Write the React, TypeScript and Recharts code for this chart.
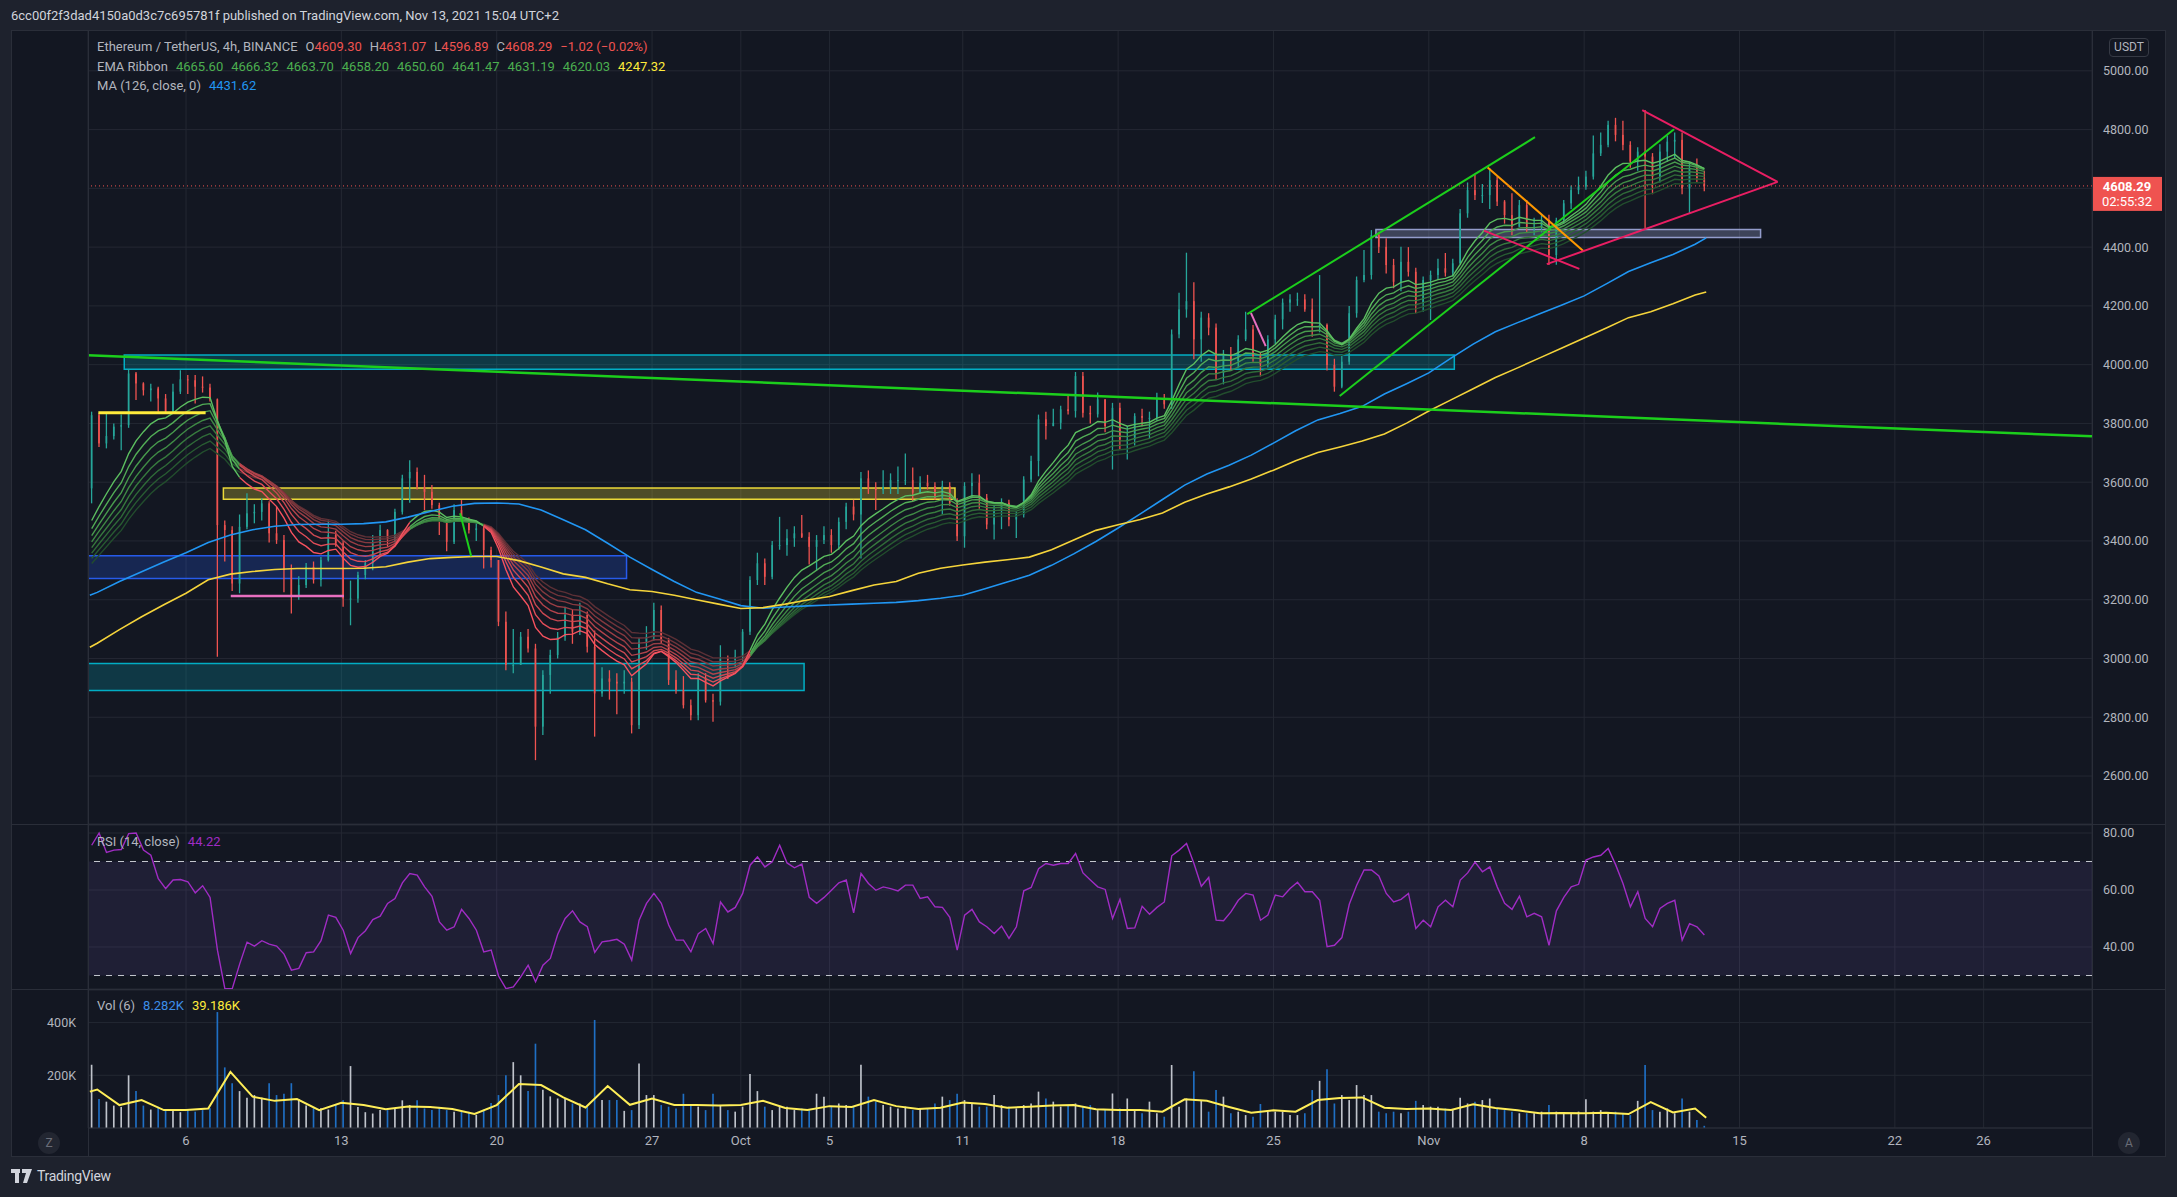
import React from "react";
import {
  ComposedChart,
  Bar,
  Line,
  XAxis,
  YAxis,
  CartesianGrid,
  ReferenceLine,
  ReferenceArea,
  Cell,
} from "recharts";

// slot 0 = Sep 1 16:00, slot 218 = Nov 13 08:00 (UTC+2)
const firstOpen = 3579;
const closes = [
  3828, 3732, 3757, 3789, 3794, 3970, 3936, 3913, 3919, 3885, 3840, 3908, 3950, 3947, 3925, 3922, 3882, 3454, 3437, 3255,
  3448, 3494, 3499, 3528, 3426, 3403, 3301, 3210, 3250, 3312, 3267, 3335, 3420, 3392, 3204, 3204, 3284, 3324, 3392, 3437,
  3409, 3499, 3613, 3635, 3584, 3567, 3522, 3471, 3397, 3505, 3471, 3437, 3443, 3369, 3335, 3125, 2978, 2978, 3074, 3034,
  2768, 2944, 3012, 3074, 3148, 3091, 3148, 3040, 2881, 2932, 2921, 2915, 2921, 2773, 3057, 3074, 3165, 3063, 2927, 2893,
  2841, 2807, 2932, 2858, 2853, 3000, 2995, 3006, 3091, 3267, 3324, 3278, 3386, 3386, 3409, 3426, 3414, 3380, 3403, 3420,
  3386, 3465, 3517, 3490, 3613, 3579, 3573, 3584, 3607, 3607, 3607, 3564, 3598, 3587, 3547, 3587, 3530, 3416, 3587, 3598,
  3547, 3456, 3507, 3530, 3473, 3490, 3609, 3672, 3814, 3791, 3802, 3848, 3842, 3961, 3836, 3831, 3882, 3791, 3853, 3745,
  3745, 3825, 3819, 3819, 3882, 3865, 4103, 4188, 4216, 4086, 4160, 4126, 3972, 4035, 4012, 4086, 4120, 4029, 4001, 4086,
  4154, 4211, 4222, 4222, 4188, 4129, 4135, 3999, 3925, 4010, 4175, 4288, 4305, 4441, 4401, 4339, 4282, 4350, 4316, 4209,
  4288, 4305, 4328, 4313, 4345, 4515, 4594, 4577, 4577, 4628, 4555, 4509, 4469, 4543, 4469, 4469, 4492, 4373, 4492, 4549,
  4594, 4606, 4640, 4719, 4748, 4816, 4782, 4748, 4691, 4725, 4708, 4640, 4725, 4759, 4765, 4600, 4668, 4634, 4608.29,
];
const highs = [
  3840, 3835, 3834, 3800, 3830, 3985, 3975, 3940, 3935, 3925, 3900, 3935, 3981, 3965, 3965, 3960, 3935, 3885, 3470, 3450,
  3490, 3562, 3525, 3545, 3535, 3516, 3420, 3320, 3280, 3325, 3330, 3345, 3470, 3435, 3400, 3265, 3295, 3335, 3420, 3455,
  3440, 3510, 3625, 3675, 3650, 3625, 3590, 3530, 3470, 3525, 3539, 3480, 3460, 3450, 3380, 3335, 3160, 3100, 3090, 3100,
  3050, 2960, 3030, 3090, 3176, 3165, 3190, 3160, 3095, 2970, 2960, 2950, 2960, 2935, 3070, 3110, 3190, 3180, 3070, 2960,
  2940, 2860, 2950, 2950, 2880, 3045, 3010, 3030, 3100, 3280, 3360, 3340, 3400, 3482, 3440, 3450, 3488, 3430, 3420, 3450,
  3440, 3480, 3530, 3540, 3635, 3640, 3600, 3641, 3630, 3653, 3698, 3650, 3620, 3625, 3600, 3605, 3600, 3545, 3600, 3630,
  3626, 3560, 3520, 3545, 3540, 3500, 3620, 3690, 3830, 3840, 3850, 3860, 3899, 3975, 3975, 3860, 3905, 3880, 3870, 3870,
  3790, 3835, 3850, 3840, 3904, 3900, 4120, 4245, 4381, 4280, 4180, 4175, 4140, 4050, 4060, 4100, 4180, 4135, 4040, 4100,
  4170, 4225, 4240, 4245, 4240, 4225, 4305, 4140, 4020, 4030, 4200, 4300, 4390, 4458, 4450, 4430, 4360, 4401, 4400, 4330,
  4300, 4320, 4360, 4380, 4360, 4530, 4620, 4645, 4615, 4668, 4640, 4560, 4583, 4560, 4560, 4500, 4510, 4510, 4500, 4560,
  4610, 4640, 4660, 4780, 4790, 4830, 4840, 4830, 4760, 4740, 4867, 4720, 4750, 4780, 4790, 4790, 4690, 4702, 4660,
];
const lows = [
  3528, 3720, 3715, 3745, 3709, 3785, 3880, 3895, 3875, 3840, 3835, 3840, 3900, 3900, 3868, 3905, 3875, 3006, 3330, 3230,
  3222, 3440, 3460, 3470, 3395, 3390, 3225, 3153, 3200, 3240, 3255, 3245, 3330, 3380, 3176, 3113, 3190, 3270, 3300, 3350,
  3380, 3395, 3490, 3530, 3575, 3505, 3510, 3420, 3365, 3390, 3465, 3425, 3400, 3306, 3310, 3110, 2960, 2950, 2990, 3020,
  2654, 2740, 2880, 3000, 3060, 3050, 3080, 3020, 2734, 2870, 2860, 2810, 2880, 2745, 2760, 3030, 3060, 3050, 2910, 2880,
  2830, 2790, 2790, 2850, 2785, 2840, 2930, 2970, 2990, 3080, 3250, 3250, 3270, 3370, 3350, 3380, 3410, 3320, 3300, 3390,
  3360, 3370, 3440, 3470, 3340, 3560, 3505, 3560, 3560, 3560, 3590, 3536, 3560, 3575, 3540, 3490, 3520, 3400, 3377, 3545,
  3510, 3440, 3405, 3440, 3450, 3410, 3480, 3600, 3620, 3745, 3790, 3780, 3830, 3820, 3820, 3800, 3820, 3770, 3643, 3712,
  3677, 3725, 3790, 3750, 3810, 3850, 3850, 4090, 4160, 4018, 4010, 4100, 3950, 3933, 3980, 3990, 4080, 4010, 3960, 3990,
  4070, 4120, 4180, 4200, 4180, 4095, 4110, 3980, 3908, 3920, 4000, 4160, 4280, 4290, 4380, 4310, 4260, 4250, 4300, 4175,
  4180, 4152, 4290, 4300, 4300, 4340, 4500, 4560, 4550, 4530, 4540, 4480, 4440, 4490, 4450, 4440, 4450, 4339, 4340, 4480,
  4530, 4580, 4595, 4630, 4710, 4740, 4760, 4730, 4670, 4660, 4464, 4580, 4620, 4690, 4700, 4580, 4515, 4620, 4590,
];
// volume per slot, thousands
const volumes = [
  240, 110, 100, 85, 80, 200, 140, 85, 70, 80, 70, 65, 60, 70, 62, 68, 75, 440, 230, 170,
  140, 115, 125, 115, 170, 125, 130, 170, 110, 85, 75, 75, 70, 90, 105, 235, 80, 60, 55, 68,
  68, 74, 105, 87, 105, 74, 68, 80, 68, 62, 62, 62, 50, 70, 95, 125, 200, 250, 200, 140,
  320, 145, 120, 112, 110, 93, 93, 81, 410, 106, 106, 106, 65, 68, 245, 125, 125, 87, 81, 74,
  130, 87, 81, 68, 130, 87, 68, 62, 81, 205, 140, 81, 68, 81, 81, 68, 74, 68, 130, 119,
  81, 93, 87, 81, 240, 119, 100, 87, 81, 74, 81, 68, 74, 74, 93, 119, 106, 130, 106, 93,
  81, 81, 125, 87, 81, 74, 87, 93, 138, 112, 100, 81, 87, 93, 81, 87, 68, 68, 131, 74,
  112, 68, 56, 100, 56, 43, 239, 81, 112, 215, 106, 62, 144, 119, 56, 62, 49, 43, 91, 62,
  62, 62, 49, 49, 56, 144, 179, 223, 93, 125, 106, 163, 125, 125, 62, 56, 62, 56, 62, 103,
  87, 81, 81, 74, 68, 115, 93, 100, 106, 112, 74, 68, 62, 56, 56, 56, 62, 87, 62, 56,
  56, 62, 109, 62, 68, 56, 62, 56, 49, 103, 239, 68, 62, 74, 56, 112, 62, 30, 8.282,
];
const rsiValues = [
  75.7, 80, 73.2, 74, 74.2, 79.8, 80, 74, 72.2, 64, 60.5, 63.5, 63.7, 62.9, 59, 61.5, 57.4, 38.9, 25.4, 25.4,
  34, 41.7, 40.3, 42.2, 41, 40.3, 37.5, 31.9, 32.5, 38, 38.3, 42.2, 51.2, 50.4, 45.9, 37.7, 43.3, 45.7, 49.6, 50.8,
  55.3, 57, 62.5, 65.8, 65.2, 61.1, 57.8, 48.8, 45.9, 47.1, 53.2, 50, 45.9, 38.3, 38.9, 29.8, 25.4, 26, 29.5, 33.6,
  27.8, 33.6, 36, 44.5, 50, 52.7, 48.8, 47.1, 38.1, 41.8, 42.2, 42.7, 41, 35.4, 49.4, 55.3, 58.8, 55.3, 47.7, 42.4,
  42.4, 38.3, 44.7, 46.5, 41.2, 55.8, 52.3, 53.9, 58.8, 68.7, 71.6, 68.1, 69.9, 75.7, 69.5, 67.8, 69.1, 57.4, 55.3, 57.4,
  59.9, 62.5, 63.5, 52, 65.8, 62.3, 59.9, 61.1, 60.5, 59.7, 61.7, 61.7, 57, 57.6, 54.1, 53.9, 50.4, 38.9, 51.2, 53.2,
  48.8, 47.1, 44.7, 47.3, 43, 47.1, 59.7, 60.9, 67.5, 69.3, 68.7, 69.3, 69.3, 72.8, 66, 63.5, 61.1, 60.2, 50, 56.7,
  46.5, 46.7, 54.3, 51.5, 53.9, 55.8, 72, 74, 76.3, 69.3, 61.3, 64.4, 49.4, 49.2, 52.3, 56.4, 58.8, 58.2, 49.4, 51.2,
  58.2, 57.6, 60.5, 62.7, 59.4, 59.4, 56.4, 40.1, 40.6, 43.3, 55, 61.7, 67, 67, 64.9, 58.8, 55.8, 56.7, 58.8, 46.5,
  49.4, 47.1, 54.1, 56.4, 54.1, 63.5, 66, 69.8, 66.4, 68.1, 61.1, 55.3, 53.2, 57.8, 50.6, 51.8, 50.6, 40.6, 52.7, 57.4,
  61.1, 62, 70.5, 71.6, 72.2, 74.6, 68.9, 62.3, 54.1, 59.4, 50, 47.1, 53.5, 55.3, 56.4, 42.4, 48.2, 47.1, 44.22,
];

// daily readings at midnight, Sep 2 .. Nov 13
const ma126Daily = [
  3225, 3262, 3295, 3328, 3360, 3395, 3420, 3438, 3450, 3456, 3457, 3457, 3459, 3465, 3481, 3500, 3518, 3528, 3529, 3526,
  3505, 3472, 3438, 3392, 3345, 3303, 3262, 3225, 3203, 3180, 3171, 3175, 3179, 3182, 3185, 3188, 3191, 3197, 3205, 3215,
  3237, 3260, 3283, 3317, 3356, 3398, 3444, 3492, 3541, 3590, 3628, 3658, 3692, 3733, 3775, 3812, 3834, 3858, 3900, 3935,
  3972, 4022, 4070, 4112, 4143, 4173, 4203, 4234, 4275, 4317, 4347, 4375, 4410,
];
const ema200Daily = [
  3052, 3098, 3142, 3183, 3222, 3268, 3287, 3296, 3303, 3306, 3306, 3306, 3307, 3312, 3328, 3340, 3344, 3347, 3347, 3333,
  3311, 3288, 3276, 3254, 3234, 3228, 3215, 3200, 3185, 3170, 3173, 3185, 3199, 3211, 3231, 3250, 3262, 3290, 3307, 3318,
  3328, 3336, 3345, 3370, 3403, 3436, 3455, 3473, 3495, 3532, 3560, 3584, 3611, 3641, 3673, 3701, 3720, 3740, 3764, 3801,
  3842, 3880, 3918, 3956, 3989, 4023, 4057, 4091, 4125, 4160, 4180, 4207, 4237,
];
const volMaDaily = [
  146, 87, 106, 68, 68, 74, 213, 119, 103, 110, 68, 96, 87, 71, 82, 80, 72, 53, 87, 167,
  163, 116, 78, 159, 88, 112, 87, 87, 85, 87, 103, 76, 68, 83, 80, 106, 83, 72, 77, 97,
  91, 77, 81, 85, 87, 71, 68, 68, 62, 109, 103, 80, 58, 67, 62, 106, 114, 116, 77, 72,
  74, 68, 90, 76, 67, 56, 57, 56, 58, 53, 98, 59, 74,
];
const firstDailyDay = -4; // days from Sep 6
const lineStart = { ma126: 3215, ema200: 3038, volMa: 138 };
const lineEnd = { ma126: 4431.62, ema200: 4247.32, volMa: 39.186 };

const ribbonLengths = [20, 25, 30, 35, 40, 45, 50, 55];
const ribbonSeeds = [3390, 3375, 3360, 3345, 3330, 3315, 3300, 3285];

const tickDays = [0, 7, 14, 21, 25, 29, 35, 42, 49, 56, 63, 70, 77, 81];
const tickLabels = ["6", "13", "20", "27", "Oct", "5", "11", "18", "25", "Nov", "8", "15", "22", "26"];
const priceTicks = [2600, 2800, 3000, 3200, 3400, 3600, 3800, 4000, 4200, 4400, 4600, 4800, 5000];
const rsiTicks = [40, 60, 80];
const volTicks = [200, 400];
const lastPrice = 4608.29;

// drawings, in (slot, price)
const boxes = [
  { x1: 4.4, x2: 184.2, y1: 3984, y2: 4033, color: "#00bcd4", op: 0.2 },
  { x1: 17.8, x2: 116.7, y1: 3542, y2: 3580, color: "#ffeb3b", op: 0.25 },
  { x1: -0.5, x2: 72.3, y1: 3272, y2: 3350, color: "#2962ff", op: 0.22 },
  { x1: -0.5, x2: 96.3, y1: 2891, y2: 2983, color: "#00bcd4", op: 0.2 },
  { x1: 173.6, x2: 225.6, y1: 4433, y2: 4460, color: "#9fa8da", op: 0.3 },
];
const trendLines = [
  { a: [-0.5, 4032], b: [270.4, 3756], color: "#1ccf1c", w: 2.5 },
  { a: [0.9, 3836], b: [15.4, 3836], color: "#ffeb3b", w: 3 },
  { a: [18.8, 3213], b: [34.1, 3213], color: "#e86fc0", w: 2.5 },
  { a: [49.8, 3494], b: [51.3, 3348], color: "#1ccf1c", w: 2 },
  { a: [156.7, 4176], b: [158.7, 4063], color: "#e86fc0", w: 2 },
  { a: [156.2, 4172], b: [195.1, 4774], color: "#1ccf1c", w: 2 },
  { a: [168.7, 3893], b: [213.9, 4801], color: "#1ccf1c", w: 2 },
  { a: [188.7, 4671], b: [201.6, 4388], color: "#ff9800", w: 2 },
  { a: [188.2, 4456], b: [201.1, 4326], color: "#e91e63", w: 2 },
  { a: [196.7, 4342], b: [227.9, 4622], color: "#e91e63", w: 2 },
  { a: [209.6, 4866], b: [227.9, 4622], color: "#e91e63", w: 2 },
];

const FONT = "Roboto, 'Liberation Sans', sans-serif";
const BG = "#131722";
const GRID = "#242833";
const SEP = "#2a2e39";
const TEXT = "#b2b5be";
const UP = "#26a69a";
const DOWN = "#ef5350";
const VOL_DOWN = "#1f6fc4";
const VOL_UP = "#bfc3cb";
const greenShades = ["#5cbf60", "#52ad56", "#489b4d", "#3f8a45", "#377a3e", "#2f6a38", "#285b32", "#224d2d"];
const redShades = ["#f7525f", "#e04d58", "#c94851", "#b2434b", "#9b3e45", "#85393f", "#6f343a", "#5c3036"];

const X_DOMAIN: [number, number] = [-0.5, 270.4];
const W = 2155;
const M_LEFT = 77;
const M_RIGHT = 74;

// midnight of a day sits on the first 4h bar of its 8h slot
const dayToSlot = (d: number) => 3 * d + 12.75;
const tickPositions = tickDays.map(dayToSlot);
const tickName = new Map(tickPositions.map((p, i) => [p, tickLabels[i]]));

// EMA ribbon indicator on the read closes (4h lengths, 8h steps)
const ribbon = ribbonLengths.map((n, k) => {
  const a = 1 - Math.pow(1 - 2 / (n + 1), 2);
  let e = ribbonSeeds[k];
  return closes.map((c) => (e = e + a * (c - e)));
});
const trendUp = closes.map((_, i) => ribbon[0][i] >= ribbon[7][i]);

const rows = closes.map((c, i) => {
  const o = i === 0 ? firstOpen : closes[i - 1];
  const row: any = {
    x: i,
    o,
    c,
    h: Math.max(highs[i], o, c),
    l: Math.min(lows[i], o, c),
    v: volumes[i],
    rsi: rsiValues[i],
    up: c >= o,
  };
  ribbon.forEach((line, k) => {
    row[`g${k}`] = trendUp[i] || (i > 0 && trendUp[i - 1]) ? line[i] : null;
    row[`r${k}`] = !trendUp[i] || (i > 0 && !trendUp[i - 1]) ? line[i] : null;
  });
  return row;
});

const dailyRows = (vals: number[], start: number, end: number) => [
  { x: -0.25, y: start },
  ...vals.map((y, k) => ({ x: dayToSlot(firstDailyDay + k), y })),
  { x: closes.length - 0.75, y: end },
];
const ma126Rows = dailyRows(ma126Daily, lineStart.ma126, lineEnd.ma126);
const ema200Rows = dailyRows(ema200Daily, lineStart.ema200, lineEnd.ema200);
const volMaRows = dailyRows(volMaDaily, lineStart.volMa, lineEnd.volMa);

function Candle(props: any) {
  const { x, y, width, height, payload } = props;
  if (!payload || x == null || y == null) return null;
  const { o, h, l, c } = payload;
  const k = h > l ? height / (h - l) : 0;
  const yO = y + (h - o) * k;
  const yC = y + (h - c) * k;
  const color = c >= o ? UP : DOWN;
  const cx = x + width / 2;
  return (
    <g>
      <line x1={cx} x2={cx} y1={y} y2={y + height} stroke={color} strokeWidth={1.3} />
      <rect x={x} y={Math.min(yO, yC)} width={width} height={Math.max(1, Math.abs(yC - yO))} fill={color} />
    </g>
  );
}

function PriceTag(props: any) {
  const vb = props.viewBox;
  if (!vb) return null;
  const x = vb.x + vb.width;
  const y = vb.y;
  return (
    <g>
      <rect x={x} y={y - 9} width={70} height={34} fill="#ef5350" />
      <text x={x + 35} y={y + 5} textAnchor="middle" fill="#ffffff" fontSize={13} fontWeight={700} fontFamily={FONT}>
        {lastPrice.toFixed(2)}
      </text>
      <text x={x + 35} y={y + 20} textAnchor="middle" fill="#ffffff" fontSize={13} fontFamily={FONT}>
        02:55:32
      </text>
    </g>
  );
}

function TimeTick(props: any) {
  const { x, y, payload } = props;
  return (
    <text x={x} y={y + 4} textAnchor="middle" dominantBaseline="middle" fill={TEXT} fontSize={13} fontFamily={FONT}>
      {tickName.get(payload.value) ?? ""}
    </text>
  );
}

const axisTick = { fill: TEXT, fontSize: 12.5, fontFamily: FONT };
// the last-price tag sits over the 4600 label, as in the snapshot
const priceLabel = (v: number) => (Math.abs(v - lastPrice) < 40 ? "" : v.toFixed(2));

function Legend() {
  const lbl = { color: TEXT, marginRight: 8 };
  const red = { color: "#ef5350", marginRight: 8 };
  const grn = { color: "#4caf50", marginRight: 8 };
  const emaLast = ["4665.60", "4666.32", "4663.70", "4658.20", "4650.60", "4641.47", "4631.19", "4620.03"];
  return (
    <div style={{ position: "absolute", left: 86, top: 7, fontSize: 13, lineHeight: "19.5px", whiteSpace: "nowrap" }}>
      <div>
        <span style={lbl}>Ethereum / TetherUS, 4h, BINANCE</span>
        <span style={{ color: TEXT }}>O</span><span style={red}>4609.30</span>
        <span style={{ color: TEXT }}>H</span><span style={red}>4631.07</span>
        <span style={{ color: TEXT }}>L</span><span style={red}>4596.89</span>
        <span style={{ color: TEXT }}>C</span><span style={red}>4608.29</span>
        <span style={red}>−1.02 (−0.02%)</span>
      </div>
      <div>
        <span style={lbl}>EMA Ribbon</span>
        {emaLast.map((v) => (
          <span key={v} style={grn}>{v}</span>
        ))}
        <span style={{ color: "#ffeb3b" }}>4247.32</span>
      </div>
      <div>
        <span style={lbl}>MA (126, close, 0)</span>
        <span style={{ color: "#2196f3" }}>4431.62</span>
      </div>
    </div>
  );
}

export default function App() {
  return (
    <div
      style={{
        position: "absolute",
        left: 0,
        top: 0,
        width: 2177,
        height: 1197,
        background: "#1e222d",
        fontFamily: FONT,
        overflow: "hidden",
      }}
    >
      <div style={{ position: "absolute", left: 11, top: 8, fontSize: 13, color: "#d1d4dc", whiteSpace: "nowrap" }}>
        6cc00f2f3dad4150a0d3c7c695781f published on TradingView.com, Nov 13, 2021 15:04 UTC+2
      </div>

      <div style={{ position: "absolute", left: 11, top: 30, width: W, height: 1127, background: BG }}>
        {/* price pane */}
        <div style={{ position: "absolute", left: 0, top: 0 }}>
          <ComposedChart width={W} height={794} data={rows} margin={{ top: 0, right: 0, bottom: 0, left: M_LEFT }}>
            <CartesianGrid stroke={GRID} vertical horizontal />
            <XAxis dataKey="x" type="number" domain={X_DOMAIN} ticks={tickPositions} allowDataOverflow hide />
            <YAxis
              orientation="right"
              width={M_RIGHT}
              domain={[2436.7, 5138.9]}
              ticks={priceTicks}
              allowDataOverflow
              axisLine={false}
              tickLine={false}
              tickSize={0}
              tickMargin={11}
              tick={{ ...axisTick, textAnchor: "start" }}
              tickFormatter={priceLabel}
            />
            {ribbon.map((_, idx) => {
              const k = ribbon.length - 1 - idx;
              return (
                <Line
                  key={`g${k}`}
                  dataKey={`g${k}`}
                  stroke={greenShades[k]}
                  strokeWidth={1.4}
                  dot={false}
                  activeDot={false}
                  connectNulls={false}
                  isAnimationActive={false}
                />
              );
            })}
            {ribbon.map((_, idx) => {
              const k = ribbon.length - 1 - idx;
              return (
                <Line
                  key={`r${k}`}
                  dataKey={`r${k}`}
                  stroke={redShades[k]}
                  strokeWidth={1.4}
                  dot={false}
                  activeDot={false}
                  connectNulls={false}
                  isAnimationActive={false}
                />
              );
            })}
            <Line data={ma126Rows} dataKey="y" stroke="#2196f3" strokeWidth={1.6} dot={false} activeDot={false} isAnimationActive={false} />
            <Line data={ema200Rows} dataKey="y" stroke="#f5d43b" strokeWidth={1.6} dot={false} activeDot={false} isAnimationActive={false} />
            <Bar dataKey={(d: any) => [d.l, d.h]} barSize={6} shape={Candle} isAnimationActive={false} />
            {boxes.map((b, i) => (
              <ReferenceArea
                key={`box${i}`}
                x1={b.x1}
                x2={b.x2}
                y1={b.y1}
                y2={b.y2}
                fill={b.color}
                fillOpacity={b.op}
                stroke={b.color}
                strokeWidth={1.5}
                strokeOpacity={0.9}
                ifOverflow="hidden"
              />
            ))}
            {trendLines.map((t, i) => (
              <ReferenceLine
                key={`tl${i}`}
                segment={[
                  { x: t.a[0], y: t.a[1] },
                  { x: t.b[0], y: t.b[1] },
                ]}
                stroke={t.color}
                strokeWidth={t.w}
                ifOverflow="hidden"
              />
            ))}
            <ReferenceLine
              y={lastPrice}
              stroke="#ef5350"
              strokeDasharray="1 3"
              strokeWidth={1}
              label={(p: any) => <PriceTag {...p} />}
            />
          </ComposedChart>
        </div>

        {/* RSI pane */}
        <div style={{ position: "absolute", left: 0, top: 795 }}>
          <ComposedChart width={W} height={164} data={rows} margin={{ top: 0, right: 0, bottom: 0, left: M_LEFT }}>
            <CartesianGrid stroke={GRID} vertical horizontal />
            <XAxis dataKey="x" type="number" domain={X_DOMAIN} ticks={tickPositions} allowDataOverflow hide />
            <YAxis
              orientation="right"
              width={M_RIGHT}
              domain={[25.26, 82.81]}
              ticks={rsiTicks}
              allowDataOverflow
              axisLine={false}
              tickLine={false}
              tickSize={0}
              tickMargin={11}
              tick={{ ...axisTick, textAnchor: "start" }}
              tickFormatter={(v: number) => v.toFixed(2)}
            />
            <ReferenceArea y1={30} y2={70} fill="#7e57c2" fillOpacity={0.12} stroke="none" />
            <ReferenceLine y={70} stroke="#c3c6ce" strokeDasharray="6 6" strokeWidth={1} />
            <ReferenceLine y={30} stroke="#c3c6ce" strokeDasharray="6 6" strokeWidth={1} />
            <Line dataKey="rsi" stroke="#a02cc4" strokeWidth={1.4} dot={false} activeDot={false} isAnimationActive={false} />
          </ComposedChart>
        </div>

        {/* volume pane + time axis */}
        <div style={{ position: "absolute", left: 0, top: 960 }}>
          <ComposedChart width={W} height={167} data={rows} margin={{ top: 0, right: M_RIGHT, bottom: 0, left: 0 }}>
            <CartesianGrid stroke={GRID} vertical horizontal />
            <XAxis
              dataKey="x"
              type="number"
              domain={X_DOMAIN}
              ticks={tickPositions}
              allowDataOverflow
              height={29}
              axisLine={{ stroke: SEP }}
              tickLine={false}
              tickSize={0}
              tickMargin={10}
              tick={<TimeTick />}
              interval={0}
            />
            <YAxis
              orientation="left"
              width={M_LEFT}
              domain={[0, 523.7]}
              ticks={volTicks}
              allowDataOverflow
              axisLine={false}
              tickLine={false}
              tickSize={0}
              tickMargin={12}
              tick={axisTick}
              tickFormatter={(v: number) => `${v}K`}
            />
            <Bar dataKey="v" barSize={4} isAnimationActive={false}>
              {rows.map((r, i) => (
                <Cell key={i} fill={r.up ? VOL_UP : VOL_DOWN} />
              ))}
            </Bar>
            <Line data={volMaRows} dataKey="y" stroke="#ffee58" strokeWidth={2} dot={false} activeDot={false} isAnimationActive={false} />
          </ComposedChart>
        </div>

        {/* pane frames */}
        <div style={{ position: "absolute", left: 0, top: 794, width: W, height: 1, background: SEP }} />
        <div style={{ position: "absolute", left: 0, top: 959, width: W, height: 1, background: SEP }} />
        <div style={{ position: "absolute", left: M_LEFT, top: 0, width: 1, height: 1127, background: SEP }} />
        <div style={{ position: "absolute", left: W - M_RIGHT, top: 0, width: 1, height: 1127, background: SEP }} />
        <div style={{ position: "absolute", inset: 0, border: `1px solid ${SEP}`, pointerEvents: "none" }} />

        <Legend />

        <div
          style={{
            position: "absolute",
            left: 2098,
            top: 8,
            width: 38,
            height: 17,
            border: "1px solid #363a45",
            borderRadius: 4,
            color: TEXT,
            fontSize: 12,
            lineHeight: "17px",
            textAlign: "center",
          }}
        >
          USDT
        </div>

        <div style={{ position: "absolute", left: 86, top: 804, fontSize: 13, whiteSpace: "nowrap" }}>
          <span style={{ color: TEXT, marginRight: 8 }}>RSI (14, close)</span>
          <span style={{ color: "#a02cc4" }}>44.22</span>
        </div>
        <div style={{ position: "absolute", left: 86, top: 968, fontSize: 13, whiteSpace: "nowrap" }}>
          <span style={{ color: TEXT, marginRight: 8 }}>Vol (6)</span>
          <span style={{ color: "#3d8ee8", marginRight: 8 }}>8.282K</span>
          <span style={{ color: "#ffeb3b" }}>39.186K</span>
        </div>

        {[
          { label: "Z", left: 38 },
          { label: "A", left: 2118 },
        ].map((b) => (
          <div
            key={b.label}
            style={{
              position: "absolute",
              left: b.left - 11,
              top: 1102,
              width: 22,
              height: 22,
              borderRadius: 11,
              background: "#222631",
              color: "#6a6d78",
              fontSize: 12,
              lineHeight: "22px",
              textAlign: "center",
            }}
          >
            {b.label}
          </div>
        ))}
      </div>

      <div style={{ position: "absolute", left: 11, top: 1168, display: "flex", alignItems: "center", color: "#d1d4dc" }}>
        <svg width={22} height={14} viewBox="0 0 22 14">
          <rect x={0} y={0} width={9} height={4} fill="#d1d4dc" />
          <rect x={4} y={0} width={4} height={14} fill="#d1d4dc" />
          <path d="M11 0 H21 L16 14 H12 L15 4 H11 Z" fill="#d1d4dc" />
        </svg>
        <span style={{ fontSize: 14, marginLeft: 4, letterSpacing: -0.3 }}>TradingView</span>
      </div>
    </div>
  );
}
